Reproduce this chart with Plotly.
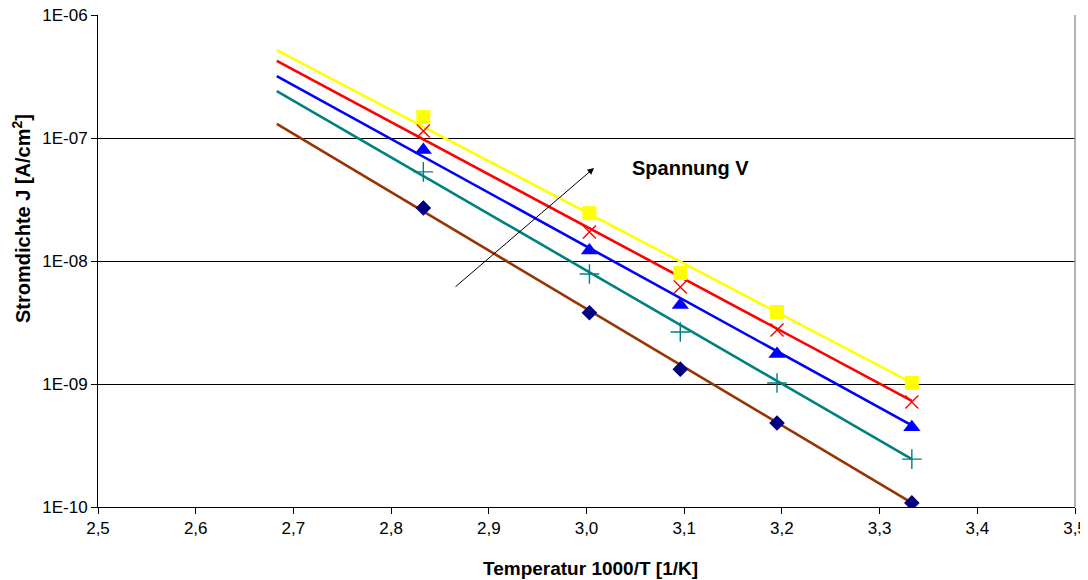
import plotly.graph_objects as go

# Data
x_vals = [2.833, 3.003, 3.096, 3.195, 3.333]
j_yellow = [1.48e-7, 2.45e-8, 7.98e-9, 3.85e-9, 1.02e-9]
j_red = [1.14e-7, 1.72e-8, 6.15e-9, 2.75e-9, 7.15e-10]
j_blue = [8.0e-8, 1.22e-8, 4.39e-9, 1.75e-9, 4.45e-10]
j_teal = [5.3e-8, 7.83e-9, 2.65e-9, 1.02e-9, 2.45e-10]
j_navy = [2.7e-8, 3.8e-9, 1.32e-9, 4.82e-10, 1.08e-10]

# Trend lines (exponential fits) read at start / end
trend_x = [2.683, 3.333]
trend_yellow = [5.19e-7, 1.02e-9]
trend_red = [4.23e-7, 7.3e-10]
trend_blue = [3.19e-7, 4.6e-10]
trend_teal = [2.41e-7, 2.45e-10]
trend_navy = [1.30e-7, 1.08e-10]

x_ticks = [2.5, 2.6, 2.7, 2.8, 2.9, 3.0, 3.1, 3.2, 3.3, 3.4, 3.5]
x_ticktext = ["2,5", "2,6", "2,7", "2,8", "2,9", "3,0", "3,1", "3,2", "3,3", "3,4", "3,5"]
y_ticks = [1e-10, 1e-9, 1e-8, 1e-7, 1e-6]
y_ticktext = ["1E-10", "1E-09", "1E-08", "1E-07", "1E-06"]

styles = [
    (j_yellow, trend_yellow, "#FFFF00", "#FFFF00", "square", 14, 0),
    (j_red, trend_red, "#FF0000", "#FF0000", "x-thin", 13, 1.4),
    (j_blue, trend_blue, "#0000FF", "#0000FF", "triangle-up", 15, 0),
    (j_teal, trend_teal, "#008080", "#008080", "cross-thin", 14, 1.4),
    (j_navy, trend_navy, "#993300", "#000080", "diamond", 12, 0),
]

FONT = "Liberation Sans, Arial, sans-serif"

fig = go.Figure()
for (ys, ty, lcol, mcol, sym, size, lw) in styles:
    fig.add_trace(go.Scatter(x=trend_x, y=ty, mode="lines",
                             line=dict(color=lcol, width=2.6),
                             showlegend=False, hoverinfo="skip"))
for (ys, ty, lcol, mcol, sym, size, lw) in styles:
    mk = dict(symbol=sym, size=size, color=mcol)
    mk["line"] = dict(color=mcol, width=lw) if lw else dict(width=0)
    fig.add_trace(go.Scatter(x=x_vals, y=ys, mode="markers", marker=mk,
                             showlegend=False))

fig.add_annotation(x=3.0077, y=-7.244, ax=2.8644, ay=-8.2195,
                   xref="x", yref="y", axref="x", ayref="y",
                   text="", showarrow=True, arrowhead=2, arrowsize=1.3,
                   arrowwidth=1, arrowcolor="black")
fig.add_annotation(x=3.106, y=-7.244, xref="x", yref="y",
                   text="<b>Spannung V</b>", showarrow=False,
                   font=dict(family=FONT, size=20, color="black"))

# Axis titles
fig.add_annotation(x=0.5036, y=-0.124, xref="paper", yref="paper",
                   xanchor="center", yanchor="middle", showarrow=False,
                   text="<b>Temperatur 1000/T [1/K]</b>",
                   font=dict(family=FONT, size=19, color="black"))
fig.add_annotation(x=-0.0778, y=0.5874, xref="paper", yref="paper",
                   xanchor="center", yanchor="middle", showarrow=False,
                   textangle=-90,
                   text="<b>Stromdichte J [A/cm<sup>2</sup>]</b>",
                   font=dict(family=FONT, size=20, color="black"))

fig.add_shape(type="line", xref="paper", yref="paper", x0=1, x1=1, y0=0, y1=1,
              line=dict(color="#999999", width=1.5))

fig.update_layout(
    width=1080, height=572,
    margin=dict(l=90, r=13, t=7, b=73),
    plot_bgcolor="white", paper_bgcolor="white",
    font=dict(family=FONT, size=17, color="black"),
    xaxis=dict(range=[2.5, 3.5], tickvals=x_ticks, ticktext=x_ticktext,
               showgrid=False, zeroline=False, showline=True, automargin=False,
               ticklabeloverflow="allow",
               linecolor="black", linewidth=1, ticks="outside",
               ticklen=6, tickcolor="black", tickfont=dict(size=17)),
    yaxis=dict(type="log", range=[-10, -6], tickvals=y_ticks, ticktext=y_ticktext,
               showgrid=True, gridcolor="black", gridwidth=1, zeroline=False,
               showline=True, linecolor="black", linewidth=1, automargin=False,
               ticklabeloverflow="allow",
               ticks="outside", ticklen=6, tickcolor="black", tickfont=dict(size=17)),
)

fig.write_html("out.html")
